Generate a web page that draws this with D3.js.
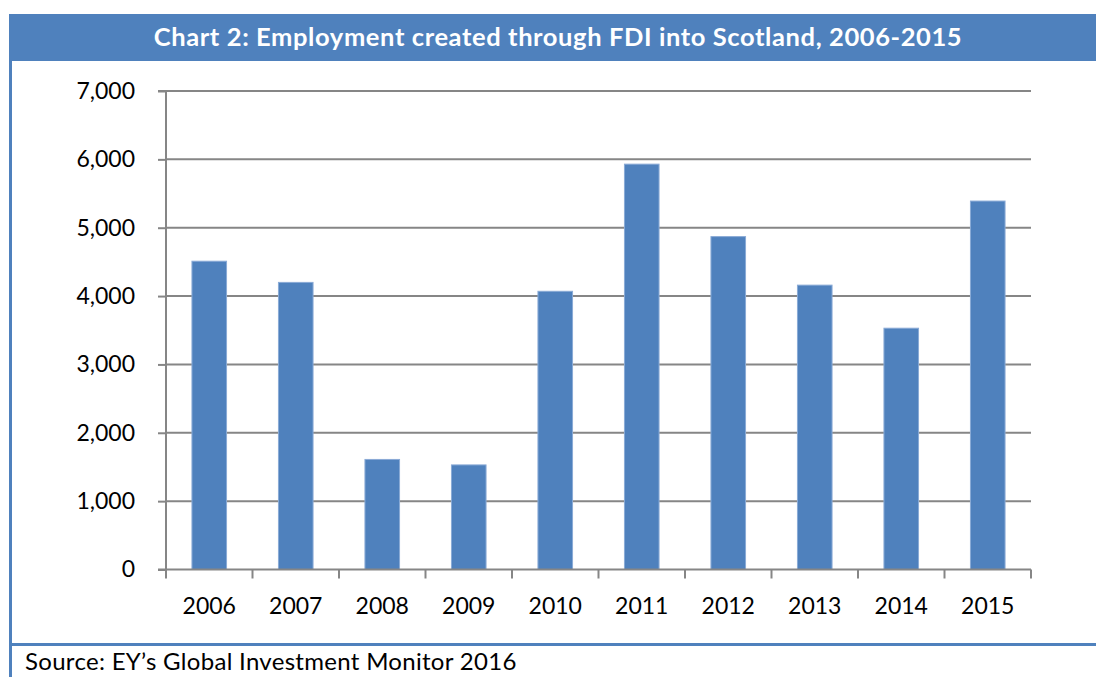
<!DOCTYPE html>
<html>
<head>
<meta charset="utf-8">
<script src="https://cdn.jsdelivr.net/npm/d3@7"></script>
<style>
  body { margin: 0; background: #fff; }
  svg text { font-family: Lato, "Open Sans", sans-serif; }
</style>
</head>
<body>
<svg width="1096" height="677"></svg>
<script>
  const titleText = 'Chart 2: Employment created through FDI into Scotland, 2006-2015';
  const sourceText = 'Source: EY\u2019s Global Investment Monitor 2016';
  const years = ['2006', '2007', '2008', '2009', '2010', '2011', '2012', '2013', '2014', '2015'];
  const jobs = [4510, 4200, 1610, 1530, 4070, 5930, 4870, 4160, 3530, 5390];
  const yTicks = [0, 1000, 2000, 3000, 4000, 5000, 6000, 7000];

  const blue = '#4F81BD';
  const grey = '#868686';
  const svg = d3.select('svg');
  const width = +svg.attr('width');

  const margin = { top: 91, left: 166, right: 65, bottom: 107.5 };
  const innerWidth = width - margin.left - margin.right;
  const innerHeight = +svg.attr('height') - margin.top - margin.bottom;

  // frame: title band, left rule and the rule above the source line
  svg.append('rect')
    .attr('x', 9).attr('y', 14)
    .attr('width', width - 9).attr('height', 47)
    .attr('fill', blue);
  svg.append('rect')
    .attr('x', 9).attr('y', 61)
    .attr('width', 3).attr('height', 616)
    .attr('fill', blue);
  svg.append('rect')
    .attr('x', 9).attr('y', 643)
    .attr('width', width - 9).attr('height', 3)
    .attr('fill', blue);

  svg.append('text')
    .attr('x', 558).attr('y', 46)
    .attr('text-anchor', 'middle')
    .attr('fill', '#fff')
    .attr('font-weight', 'bold')
    .attr('font-size', 25.5)
    .attr('letter-spacing', 0.6)
    .text(titleText);

  svg.append('text')
    .attr('x', 25).attr('y', 670)
    .attr('fill', '#000')
    .attr('font-size', 24)
    .attr('letter-spacing', 0.3)
    .text(sourceText);

  const g = svg.append('g')
    .attr('transform', `translate(${margin.left},${margin.top})`);

  const xScale = d3.scaleBand()
    .domain(years)
    .range([0, innerWidth])
    .paddingInner(0.6)
    .paddingOuter(0.3);

  const yScale = d3.scaleLinear()
    .domain([0, 7000])
    .range([innerHeight, 0]);

  // gridlines
  g.append('g')
    .selectAll('line').data(yTicks.filter(d => d > 0))
    .enter().append('line')
      .attr('x1', 0).attr('x2', innerWidth)
      .attr('y1', d => yScale(d)).attr('y2', d => yScale(d))
      .attr('stroke', grey)
      .attr('stroke-width', 2);

  // y axis
  const yAxisG = g.append('g')
    .call(d3.axisLeft(yScale)
      .tickValues(yTicks)
      .tickFormat(d3.format(','))
      .tickSize(8)
      .tickPadding(23));
  yAxisG.selectAll('line, path').attr('stroke', grey).attr('stroke-width', 2);
  yAxisG.select('.domain').attr('d', `M-8,0H0V${innerHeight}H-8`);
  yAxisG.selectAll('text')
    .attr('fill', '#000')
    .attr('font-size', 23)
    .attr('font-family', 'Lato, sans-serif');

  // bars
  g.selectAll('rect.bar').data(years)
    .enter().append('rect')
      .attr('class', 'bar')
      .attr('x', d => xScale(d))
      .attr('y', (d, i) => yScale(jobs[i]))
      .attr('width', xScale.bandwidth())
      .attr('height', (d, i) => innerHeight - yScale(jobs[i]))
      .attr('fill', blue)
      .attr('stroke', '#8aaad6')
      .attr('stroke-width', 1);

  // x axis: category labels in the middle, ticks on the band edges
  const edges = d3.range(years.length + 1).map(i => i * innerWidth / years.length);

  const xAxisG = g.append('g')
    .attr('transform', `translate(0,${innerHeight})`);
  xAxisG.append('line')
    .attr('x1', 0).attr('x2', innerWidth)
    .attr('stroke', grey).attr('stroke-width', 2);
  xAxisG.selectAll('line.tick').data(edges)
    .enter().append('line')
      .attr('class', 'tick')
      .attr('x1', d => d).attr('x2', d => d)
      .attr('y1', 0).attr('y2', 9)
      .attr('stroke', grey).attr('stroke-width', 2);
  xAxisG.selectAll('text').data(years)
    .enter().append('text')
      .attr('x', d => xScale(d) + xScale.bandwidth() / 2)
      .attr('y', 44)
      .attr('text-anchor', 'middle')
      .attr('font-size', 23)
      .attr('fill', '#000')
      .text(d => d);
</script>
</body>
</html>
